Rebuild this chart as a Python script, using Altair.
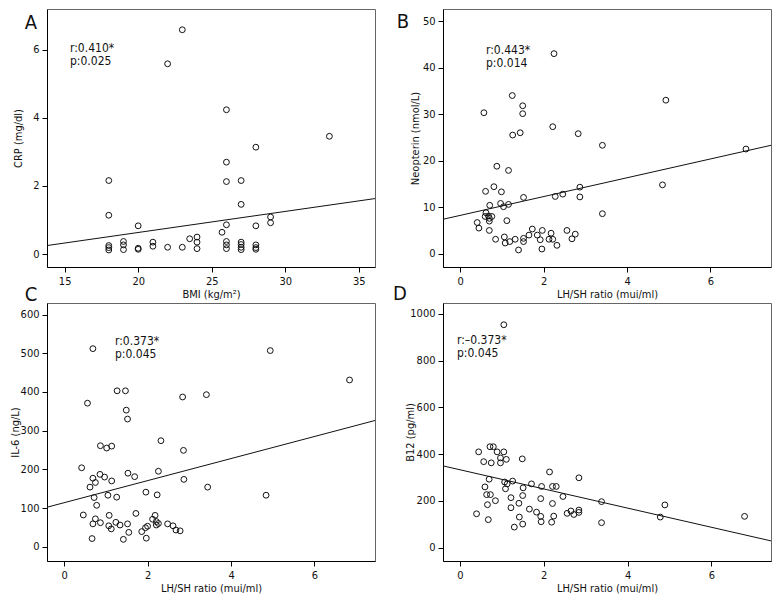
import altair as alt
import pandas as pd

# ---------------- data ----------------
# Panel A: BMI vs CRP
bmi = [23, 22, 26, 33, 28, 26, 18, 26, 27, 27, 18, 29, 29, 20, 26, 28, 25.7, 23.5, 24, 24,
       24, 19, 19, 19, 18, 18, 18, 20, 20, 21, 21, 22, 23, 26, 26, 26, 27, 27, 27, 27,
       28, 28, 28]
crp = [6.59, 5.59, 4.24, 3.46, 3.14, 2.70, 2.16, 2.13, 2.16, 1.46, 1.14, 1.09, 0.92, 0.83,
       0.86, 0.83, 0.64, 0.45, 0.50, 0.35, 0.16, 0.37, 0.27, 0.13, 0.25, 0.19, 0.12, 0.17,
       0.14, 0.35, 0.23, 0.20, 0.20, 0.37, 0.27, 0.16, 0.35, 0.28, 0.20, 0.13, 0.27, 0.19, 0.14]

# Panel B: LH/SH ratio vs Neopterin
lhsh_b = [2.25, 1.25, 0.57, 1.5, 1.5, 4.93, 2.22, 1.26, 1.44, 2.83, 3.41, 6.85,
          0.88, 1.16, 0.81, 0.61, 0.99, 2.87, 4.85, 1.52, 2.28, 2.46, 2.87, 0.97, 0.71,
          1.04, 1.16, 3.41, 0.62, 0.68, 0.60, 0.76, 0.70, 0.70, 0.41, 1.12, 0.45, 0.70,
          1.73, 1.97, 1.65, 1.85, 2.18, 2.56, 2.76, 1.06, 0.85, 1.52, 1.52, 1.32, 1.19,
          1.08, 1.92, 2.13, 2.22, 2.68, 2.32, 1.40, 1.96]
neopterin = [43.0, 34.0, 30.3, 31.8, 30.1, 33.0, 27.3, 25.5, 26.0, 25.8, 23.3, 22.5,
             18.8, 17.9, 14.4, 13.4, 13.3, 14.3, 14.8, 12.1, 12.3, 12.8, 12.2, 10.8, 10.4,
             10.1, 10.6, 8.6, 8.8, 8.1, 8.0, 8.0, 7.6, 7.0, 6.7, 7.1, 5.5, 5.0,
             5.3, 5.0, 4.0, 4.0, 4.4, 5.0, 4.2, 3.6, 3.1, 3.3, 2.6, 3.1, 2.6,
             2.3, 3.0, 3.1, 3.1, 3.2, 1.8, 0.8, 1.0]

# Panel C: LH/SH ratio vs IL-6
lhsh_c = [0.69, 4.94, 6.84, 1.27, 1.47, 2.84, 3.41, 0.56, 1.49, 1.52, 2.32, 0.87, 1.02,
          1.14, 2.86, 0.42, 0.69, 0.75, 0.86, 0.97, 1.14, 1.53, 1.69, 2.26, 2.87, 3.44,
          4.84, 0.62, 1.96, 1.05, 1.26, 2.23, 0.72, 0.78, 0.46, 1.08, 1.72, 2.18, 0.75,
          0.69, 0.87, 1.24, 1.34, 1.07, 1.13, 1.52, 1.55, 2.12, 2.21, 2.26, 2.21, 1.95,
          2.0, 1.86, 1.97, 2.48, 2.61, 2.68, 2.78, 0.67, 1.42]
il6 = [512, 507, 431, 403, 403, 387, 393, 371, 353, 330, 274, 261, 255,
       260, 249, 204, 177, 166, 187, 180, 170, 190, 181, 195, 174, 154,
       133, 154, 141, 133, 128, 134, 127, 107, 82, 81, 86, 81, 72,
       59, 62, 63, 56, 54, 46, 59, 37, 71, 65, 60, 56, 49,
       53, 39, 22, 59, 54, 43, 41, 21, 19]

# Panel D: LH/SH ratio vs B12
lhsh_d = [1.05, 0.45, 0.72, 0.80, 0.89, 1.05, 0.97, 1.11, 1.49, 0.57, 0.75, 0.97, 2.14,
          2.84, 0.70, 1.26, 1.07, 1.13, 1.71, 0.60, 1.51, 1.95, 2.21, 2.30, 1.09, 0.64,
          0.73, 1.50, 2.46, 1.22, 1.93, 0.85, 3.38, 1.41, 0.66, 2.21, 4.89, 1.22, 1.66,
          2.65, 1.83, 2.84, 2.84, 2.72, 2.56, 0.40, 1.93, 2.24, 1.42, 4.78, 6.79, 0.68,
          1.94, 2.19, 3.38, 1.50, 1.30]
b12 = [954, 410, 432, 432, 410, 410, 384, 378, 380, 368, 363, 363, 324,
       299, 293, 285, 281, 273, 273, 260, 256, 262, 262, 262, 252, 227,
       227, 223, 219, 214, 210, 201, 197, 190, 184, 189, 183, 171, 165,
       157, 152, 161, 151, 142, 147, 145, 134, 135, 131, 131, 134, 120,
       111, 109, 107, 101, 88]

# fit lines (intercept, slope)
fit_a = (-0.604, 0.0619)
fit_b = (8.23, 2.023)
fit_c = (113.7, 28.53)
fit_d = (333.6, -41.05)

# annotations and labels
letters = ["A", "B", "C", "D"]
stats = [["r:0.410*", "p:0.025"], ["r:0.443*", "p:0.014"],
         ["r:0.373*", "p:0.045"], ["r:\u20130.373*", "p:0.045"]]
x_titles = ["BMI (kg/m\u00b2)", "LH/SH ratio (mui/ml)", "LH/SH ratio (mui/ml)", "LH/SH ratio (mui/ml)"]
y_titles = ["CRP (mg/dl)", "Neopterin (nmol/L)", "IL-6 (ng/L)", "B12 (pg/ml)"]

FONT = "Liberation Sans Narrow, DejaVu Sans Condensed, sans-serif"
W, H = 328, 258
INK = "#111111"


def panel(xs, ys, fit, xdom, ydom, xticks, yticks, xtitle, ytitle, letter, stat,
          stat_pos, letter_pos, title_x):
    df = pd.DataFrame({"x": xs, "y": ys})
    lx = [xdom[0], xdom[1]]
    ldf = pd.DataFrame({"x": lx, "y": [fit[0] + fit[1] * v for v in lx]})
    xenc = alt.X("x:Q", scale=alt.Scale(domain=xdom, nice=False, zero=False),
                 axis=alt.Axis(values=xticks, title=xtitle, format="d"))
    yenc = alt.Y("y:Q", scale=alt.Scale(domain=ydom, nice=False, zero=False),
                 axis=alt.Axis(values=yticks, title=ytitle, format="d",
                               titleX=title_x, titleY=H / 2, titleBaseline="middle",
                               titleAlign="center"))
    pts = alt.Chart(df).mark_point(shape="circle", filled=False, size=34, strokeWidth=1,
                                   color=INK, opacity=1, clip=True).encode(x=xenc, y=yenc)
    line = alt.Chart(ldf).mark_line(color=INK, strokeWidth=1, clip=True).encode(
        x="x:Q", y="y:Q")
    one = pd.DataFrame({"k": [0]})
    st = alt.Chart(one).mark_text(align="left", baseline="middle", font=FONT, fontSize=12,
                                  lineHeight=13, color=INK).encode(
        x=alt.value(stat_pos[0]), y=alt.value(stat_pos[1]), text=alt.value(stat))
    lt = alt.Chart(one).mark_text(align="center", baseline="middle", font=FONT, fontSize=20,
                                  color=INK).encode(
        x=alt.value(letter_pos[0]), y=alt.value(letter_pos[1]), text=alt.value(letter))
    return alt.layer(pts, line, st, lt).properties(width=W, height=H)


lh_dom = [-0.41, 7.45]
pa = panel(bmi, crp, fit_a, [13.8, 36.1], [-0.38, 7.2], [15, 20, 25, 30, 35], [0, 2, 4, 6],
           x_titles[0], y_titles[0], letters[0], stats[0], (23, 39), (-16, 14), -29)
pb = panel(lhsh_b, neopterin, fit_b, lh_dom, [-2.86, 52.6], [0, 2, 4, 6],
           [0, 10, 20, 30, 40, 50], x_titles[1], y_titles[1], letters[1], stats[1],
           (43, 41), (-40, 13), -28)
pc = panel(lhsh_c, il6, fit_c, lh_dom, [-37, 630], [0, 2, 4, 6],
           [0, 100, 200, 300, 400, 500, 600], x_titles[2], y_titles[2], letters[2], stats[2],
           (68, 38), (-16, -8), -32)
pd_ = panel(lhsh_d, b12, fit_d, [-0.40, 7.42], [-57, 1047], [0, 2, 4, 6],
            [0, 200, 400, 600, 800, 1000], x_titles[3], y_titles[3], letters[3], stats[3],
            (14, 37), (-43, -9), -33)

chart = alt.concat(pa, pb, pc, pd_, columns=2, spacing={"row": 36, "column": 68},
                   bounds="flush").properties(
    padding={"left": 0, "top": 0, "right": 0, "bottom": 0}
).configure_view(stroke="#666666", strokeWidth=1).configure_axis(
    grid=False, domainColor="#000000", tickColor="#000000", tickSize=5,
    labelFont=FONT, titleFont=FONT, labelFontSize=11, titleFontSize=11,
    titleFontWeight="normal", labelColor="#111111", titleColor="#111111",
    labelPadding=3, titlePadding=2
).configure_axisY(labelPadding=3)

chart.save("out.html", embed_options={"renderer": "svg", "actions": False})
